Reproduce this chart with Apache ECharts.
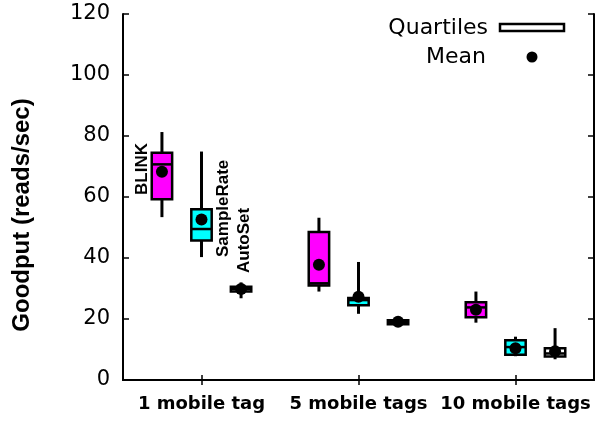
<!DOCTYPE html>
<html>
<head>
<meta charset="utf-8">
<script src="https://cdn.jsdelivr.net/npm/echarts@6/dist/echarts.min.js"></script>
<style>html,body{margin:0;padding:0;background:#fff}#c{width:600px;height:421px}</style>
</head>
<body>
<div id="c"></div>
<script>
// Categories (x groups)
const categories = ['1 mobile tag', '5 mobile tags', '10 mobile tags'];
// Y axis ticks
const yTicks = [0, 20, 40, 60, 80, 100, 120];
// Each row: [groupIndex, whiskerLow, Q1, median, Q3, whiskerHigh, mean]
const blink = [
  [0, 53.4, 59.3, 70.7, 74.5, 81.3, 68.3],
  [1, 29.0, 31.0, 31.7, 48.5, 53.2, 37.8],
  [2, 18.8, 20.6, 23.8, 25.5, 29.0, 23.0]
];
const sampleRate = [
  [0, 40.3, 45.7, 49.5, 56.0, 74.9, 52.6],
  [1, 21.7, 24.5, 26.2, 26.9, 38.7, 27.3],
  [2, 7.8, 8.3, 10.8, 13.0, 14.2, 10.4]
];
const autoSet = [
  [0, 26.8, 29.0, 29.8, 30.6, 32.0, 29.8],
  [1, 18.0, 18.3, 19.0, 19.6, 20.2, 19.1],
  [2, 6.8, 7.7, 8.7, 10.4, 17.0, 9.4]
];
const seriesNames = ['BLINK', 'SampleRate', 'AutoSet'];

const HFONT = 'DejaVu Sans';
const VFONT = 'Liberation Sans';
const BOX_W = 0.13;

function makeRender(fill, offsetFrac) {
  return function (params, api) {
    const cat = api.value(0);
    const base = api.coord([cat, 0]);
    const band = api.size([1, 0])[0];
    const cx = base[0] + offsetFrac * band;
    const hw = band * BOX_W / 2;
    const y = v => api.coord([cat, v])[1];
    const yLow = y(api.value(1)), yQ1 = y(api.value(2)), yMed = y(api.value(3)),
          yQ3 = y(api.value(4)), yHigh = y(api.value(5)), yMean = y(api.value(6));
    return {
      type: 'group',
      children: [
        { type: 'line', shape: { x1: cx, y1: yHigh, x2: cx, y2: yLow }, style: { stroke: '#000', lineWidth: 3 } },
        { type: 'rect', shape: { x: cx - hw, y: yQ3, width: 2 * hw, height: yQ1 - yQ3 }, style: { fill: fill, stroke: '#000', lineWidth: 2.5 } },
        { type: 'line', shape: { x1: cx - hw, y1: yMed, x2: cx + hw, y2: yMed }, style: { stroke: '#000', lineWidth: 2.5 } },
        { type: 'circle', shape: { cx: cx, cy: yMean, r: 6 }, style: { fill: '#000' } }
      ]
    };
  };
}

const chart = echarts.init(document.getElementById('c'), null, { renderer: 'canvas' });
const axisLine = { show: true, lineStyle: { color: '#000', width: 2 } };
const option = {
  animation: false,
  backgroundColor: '#fff',
  grid: { left: 123, right: 6, top: 14, bottom: 41 },
  xAxis: [
    {
      type: 'category', data: categories, position: 'bottom',
      axisLine: axisLine,
      axisTick: { show: true, inside: true, alignWithLabel: true, length: 5, lineStyle: { color: '#000', width: 1.5 } },
      axisLabel: { fontFamily: HFONT, fontWeight: 'bold', fontSize: 18, color: '#000', margin: 15, interval: 0 },
      splitLine: { show: false }
    },
    {
      type: 'category', data: categories, position: 'top',
      axisLine: axisLine,
      axisTick: { show: true, inside: true, alignWithLabel: true, length: 5, lineStyle: { color: '#000', width: 1.5 } },
      axisLabel: { show: false },
      splitLine: { show: false }
    }
  ],
  yAxis: [
    {
      type: 'value', min: yTicks[0], max: yTicks[yTicks.length - 1], interval: yTicks[1] - yTicks[0],
      position: 'left',
      name: 'Goodput (reads/sec)', nameLocation: 'middle', nameRotate: 90, nameGap: 89,
      nameTextStyle: { fontFamily: VFONT, fontWeight: 'bold', fontSize: 24, color: '#000', padding: [0, 36, 0, 0] },
      axisLine: axisLine,
      axisTick: { show: true, inside: true, length: 6, lineStyle: { color: '#000', width: 1.5 } },
      axisLabel: { fontFamily: HFONT, fontSize: 21, color: '#000', margin: 13 },
      splitLine: { show: false }
    },
    {
      type: 'value', min: yTicks[0], max: yTicks[yTicks.length - 1], interval: yTicks[1] - yTicks[0],
      position: 'right',
      axisLine: axisLine,
      axisTick: { show: true, inside: true, length: 6, lineStyle: { color: '#000', width: 1.5 } },
      axisLabel: { show: false },
      splitLine: { show: false }
    }
  ],
  graphic: [
    { type: 'text', x: 488, y: 28, style: { text: 'Quartiles', font: '22px "DejaVu Sans"', fill: '#000', align: 'right', verticalAlign: 'middle' } },
    { type: 'rect', shape: { x: 500, y: 24, width: 64, height: 7 }, style: { fill: '#fff', stroke: '#000', lineWidth: 2.5 } },
    { type: 'text', x: 486, y: 57, style: { text: 'Mean', font: '22px "DejaVu Sans"', fill: '#000', align: 'right', verticalAlign: 'middle' } },
    { type: 'circle', shape: { cx: 532, cy: 57, r: 5.5 }, style: { fill: '#000' } },
    { type: 'text', x: 142, y: 195, rotation: Math.PI / 2, style: { text: seriesNames[0], font: 'bold 17px "Liberation Sans"', fill: '#000', align: 'left', verticalAlign: 'middle' } },
    { type: 'text', x: 223, y: 257, rotation: Math.PI / 2, style: { text: seriesNames[1], font: 'bold 17px "Liberation Sans"', fill: '#000', align: 'left', verticalAlign: 'middle' } },
    { type: 'text', x: 244, y: 273, rotation: Math.PI / 2, style: { text: seriesNames[2], font: 'bold 17px "Liberation Sans"', fill: '#000', align: 'left', verticalAlign: 'middle' } }
  ],
  series: [
    { name: seriesNames[0], type: 'custom', renderItem: makeRender('#ff00ff', -0.252), data: blink, encode: { x: 0, y: [1, 2, 3, 4, 5, 6] }, z: 3 },
    { name: seriesNames[1], type: 'custom', renderItem: makeRender('#00ffff', 0), data: sampleRate, encode: { x: 0, y: [1, 2, 3, 4, 5, 6] }, z: 3 },
    { name: seriesNames[2], type: 'custom', renderItem: makeRender('#ffffff', 0.252), data: autoSet, encode: { x: 0, y: [1, 2, 3, 4, 5, 6] }, z: 3 }
  ]
};
chart.setOption(option);
</script>
</body>
</html>
